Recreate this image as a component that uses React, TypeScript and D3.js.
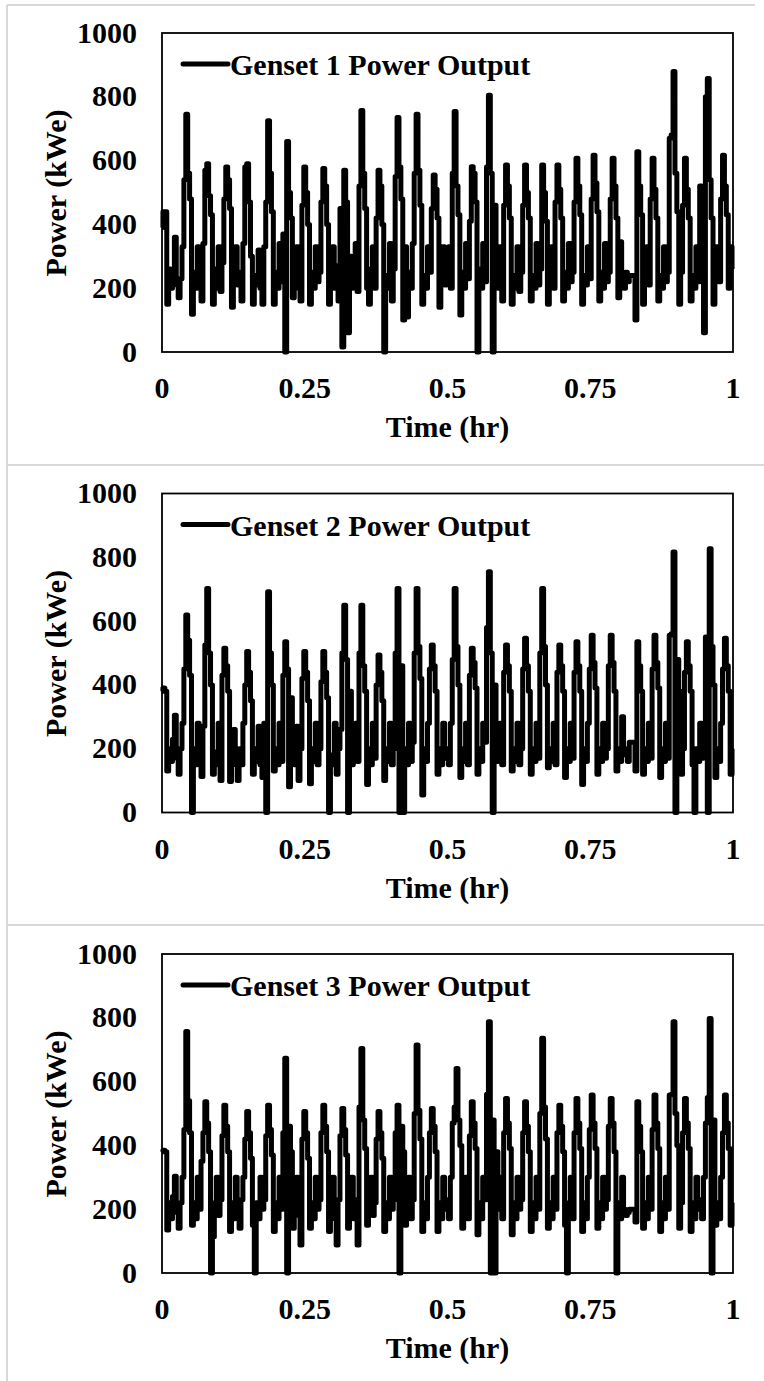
import React from "react";
import * as d3 from "d3";

const genset1 = [
  390, 440, 440, 150, 260, 200, 240, 360, 210, 170,
  230, 330, 540, 745, 560, 480, 118, 250, 200, 330,
  220, 160, 340, 570, 590, 490, 430, 150, 260, 200,
  330, 190, 280, 480, 580, 540, 450, 140, 230, 330,
  210, 250, 160, 340, 580, 590, 470, 300, 150, 240,
  210, 320, 200, 150, 330, 470, 725, 560, 440, 150,
  250, 200, 340, 220, 370, 0, 660, 500, 420, 170,
  240, 330, 200, 160, 460, 580, 500, 400, 150, 250,
  200, 330, 220, 250, 470, 575, 520, 400, 150, 240,
  330, 200, 270, 160, 450, 16, 570, 470, 60, 300,
  200, 250, 340, 190, 520, 757, 560, 450, 200, 150,
  260, 330, 200, 420, 570, 520, 400, 0, 240, 200,
  340, 160, 260, 550, 735, 580, 480, 100, 330, 110,
  250, 200, 340, 560, 745, 570, 460, 150, 240, 200,
  330, 250, 450, 555, 510, 420, 140, 230, 330, 210,
  250, 330, 200, 560, 754, 520, 430, 116, 250, 200,
  340, 230, 410, 581, 560, 470, 0, 260, 200, 340,
  220, 580, 805, 560, 0, 460, 250, 200, 330, 160,
  460, 586, 520, 420, 150, 240, 200, 330, 190, 250,
  460, 586, 500, 420, 160, 240, 200, 340, 210, 260,
  586, 500, 410, 150, 240, 330, 200, 470, 586, 510,
  420, 160, 250, 200, 340, 220, 250, 470, 607, 520,
  430, 150, 240, 210, 330, 230, 480, 617, 530, 440,
  160, 250, 200, 340, 220, 250, 480, 607, 520, 420,
  170, 346, 230, 200, 250, 220, 240, 240, 240, 100,
  628, 520, 430, 150, 250, 330, 210, 480, 607, 510,
  420, 160, 240, 200, 330, 220, 250, 670, 680, 879,
  560, 440, 150, 250, 460, 607, 510, 420, 160, 240,
  200, 330, 220, 520, 240, 60, 800, 857, 540, 420,
  150, 250, 330, 220, 480, 617, 520, 430, 200, 330,
  260,
];

const genset2 = [
  380, 390, 380, 130, 200, 160, 230, 305, 170, 120,
  200, 280, 450, 619, 540, 430, 0, 200, 150, 280,
  160, 113, 270, 525, 702, 500, 400, 120, 190, 150,
  280, 100, 430, 515, 460, 380, 97, 190, 260, 150,
  100, 200, 150, 280, 400, 505, 440, 350, 120, 200,
  160, 270, 150, 110, 280, 0, 692, 500, 400, 130,
  200, 150, 280, 160, 430, 535, 450, 81, 360, 190,
  150, 270, 100, 200, 420, 505, 440, 350, 90, 200,
  160, 280, 150, 200, 410, 505, 440, 360, 0, 180,
  150, 280, 120, 200, 260, 500, 650, 480, 0, 380,
  150, 200, 280, 160, 500, 650, 460, 380, 88, 200,
  150, 280, 170, 400, 494, 440, 350, 100, 200, 160,
  280, 150, 200, 500, 702, 0, 460, 0, 200, 150,
  280, 160, 220, 500, 702, 520, 420, 55, 200, 160,
  280, 450, 525, 460, 380, 120, 200, 150, 280, 170,
  200, 150, 280, 480, 702, 520, 400, 110, 200, 160,
  280, 150, 430, 515, 470, 390, 120, 200, 160, 280,
  220, 580, 755, 500, 0, 400, 160, 200, 280, 150,
  440, 525, 460, 380, 130, 200, 160, 280, 150, 200,
  450, 546, 460, 380, 120, 200, 160, 280, 170, 500,
  702, 520, 400, 140, 200, 160, 280, 150, 440, 525,
  460, 380, 110, 200, 160, 280, 170, 440, 535, 460,
  380, 88, 200, 160, 280, 450, 556, 470, 390, 120,
  200, 160, 280, 170, 200, 460, 556, 470, 380, 130,
  200, 160, 300, 200, 180, 160, 220, 220, 220, 130,
  535, 460, 380, 120, 200, 160, 280, 170, 450, 556,
  470, 390, 110, 200, 160, 280, 170, 556, 560, 817,
  0, 480, 380, 120, 200, 440, 535, 460, 380, 150,
  0, 200, 160, 280, 170, 200, 550, 0, 827, 520,
  400, 110, 200, 160, 280, 450, 546, 460, 380, 120,
  200,
];

const genset3 = [
  380, 385, 380, 135, 220, 170, 240, 303, 190, 140,
  220, 300, 450, 757, 540, 440, 150, 220, 170, 300,
  200, 350, 440, 537, 470, 380, 0, 114, 220, 300,
  180, 230, 430, 526, 460, 380, 130, 220, 170, 300,
  200, 140, 230, 300, 420, 506, 440, 360, 150, 0,
  220, 170, 300, 200, 230, 430, 526, 450, 370, 130,
  220, 170, 300, 200, 440, 673, 0, 460, 380, 140,
  220, 300, 180, 88, 420, 506, 440, 360, 140, 220,
  170, 300, 200, 230, 440, 526, 460, 380, 130, 220,
  300, 170, 88, 230, 430, 516, 450, 370, 140, 220,
  300, 170, 230, 88, 520, 704, 480, 390, 150, 220,
  300, 180, 220, 420, 506, 440, 360, 130, 220, 170,
  300, 200, 230, 440, 526, 0, 460, 380, 150, 220,
  300, 170, 230, 500, 715, 510, 420, 130, 220, 170,
  300, 440, 516, 460, 380, 130, 220, 170, 300, 200,
  230, 170, 300, 470, 520, 641, 480, 400, 140, 220,
  300, 170, 430, 537, 470, 390, 120, 220, 170, 300,
  230, 560, 788, 0, 480, 0, 380, 200, 300, 170,
  440, 547, 470, 390, 120, 220, 170, 300, 200, 230,
  440, 537, 460, 380, 130, 220, 170, 300, 200, 500,
  736, 520, 420, 140, 220, 170, 300, 200, 440, 526,
  460, 380, 150, 0, 220, 300, 170, 440, 547, 470,
  390, 130, 220, 170, 300, 450, 558, 470, 390, 140,
  220, 170, 300, 200, 230, 460, 547, 470, 380, 0,
  220, 170, 300, 200, 180, 190, 200, 200, 200, 160,
  537, 460, 380, 140, 220, 170, 300, 200, 450, 558,
  470, 390, 130, 220, 170, 300, 200, 558, 560, 788,
  500, 400, 140, 220, 440, 547, 470, 390, 130, 220,
  170, 300, 200, 230, 170, 300, 470, 550, 798, 0,
  480, 150, 220, 170, 300, 440, 558, 470, 390, 150,
  220,
];

const seriesNames = ["Genset 1 Power Output", "Genset 2 Power Output", "Genset 3 Power Output"];
const yTicks = [0, 200, 400, 600, 800, 1000];
const xTicks = [0, 0.25, 0.5, 0.75, 1];
const xTickLabels = ["0", "0.25", "0.5", "0.75", "1"];

const W = 764;
const H = 1381;
const panelStep = 460.5;
const plot = { left: 162, right: 733, top: 33, bottom: 352 };
const font = "'Liberation Serif', 'Times New Roman', serif";

const x = d3.scaleLinear().domain([0, 1]).range([plot.left, plot.right]);
const y = d3.scaleLinear().domain([0, 1000]).range([plot.bottom, plot.top]);

const Panel = ({ values, name, offset }: { values: number[]; name: string; offset: number }) => {
  const n = values.length - 1;
  // the logged signal holds each value until the next sample, so draw it as steps
  const line = d3
    .line<number>()
    .x((_, i) => x(i / n))
    .y((d) => y(d))
    .curve(d3.curveStep);

  return (
    <g transform={`translate(0, ${offset})`} fontFamily={font} fontWeight="bold" fontSize={30}>
      <rect
        x={plot.left}
        y={plot.top}
        width={plot.right - plot.left}
        height={plot.bottom - plot.top}
        fill="none"
        stroke="#000"
        strokeWidth={1.8}
      />
      <path d={line(values) || ""} fill="none" stroke="#000" strokeWidth={5} strokeLinejoin="round" />
      {/* legend */}
      <line x1={183} x2={228} y1={64} y2={64} stroke="#000" strokeWidth={5} strokeLinecap="round" />
      <text x={230} y={75}>
        {name}
      </text>
      {/* y axis labels */}
      {yTicks.map((t) => (
        <text key={t} x={137} y={y(t) + 9.5} textAnchor="end">
          {t}
        </text>
      ))}
      {/* x axis labels */}
      {xTicks.map((t, i) => (
        <text key={t} x={x(t)} y={398} textAnchor="middle">
          {xTickLabels[i]}
        </text>
      ))}
      <text x={(plot.left + plot.right) / 2} y={437} textAnchor="middle">
        Time (hr)
      </text>
      <text transform="translate(66, 193) rotate(-90)" textAnchor="middle">
        Power (kWe)
      </text>
    </g>
  );
};

export default function App() {
  const data = [genset1, genset2, genset3];
  return (
    <svg
      width={W}
      height={H}
      style={{ position: "absolute", left: 0, top: 0, background: "#fff" }}
    >
      <rect width={W} height={H} fill="#fff" />
      {/* light frame around the three images */}
      <line x1={7} x2={755} y1={5} y2={5} stroke="#d9d9d9" strokeWidth={2} />
      <line x1={7} x2={7} y1={5} y2={H} stroke="#d9d9d9" strokeWidth={2} />
      <line x1={7} x2={W} y1={465} y2={465} stroke="#d9d9d9" strokeWidth={2} />
      <line x1={7} x2={W} y1={925} y2={925} stroke="#d9d9d9" strokeWidth={2} />
      {data.map((vals, k) => (
        <Panel key={k} values={vals} name={seriesNames[k]} offset={k * panelStep} />
      ))}
    </svg>
  );
}
